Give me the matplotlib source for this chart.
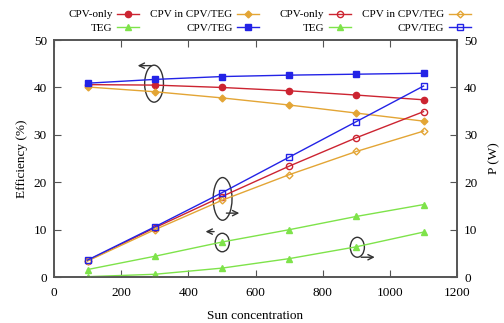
import matplotlib
matplotlib.use("Agg")
import matplotlib.pyplot as plt
from matplotlib.patches import Ellipse

plt.rcParams["font.family"] = ["Liberation Serif", "DejaVu Serif"]
plt.rcParams["font.size"] = 9.5

# Sun concentration (x axis)
suns = [100, 300, 500, 700, 900, 1100]

# Efficiency (%) - left axis
eff_cpv_only = [40.6, 40.5, 40.0, 39.3, 38.4, 37.4]
eff_cpv_in_hybrid = [40.1, 39.1, 37.8, 36.3, 34.6, 32.9]
eff_teg = [1.6, 4.4, 7.4, 10.0, 12.8, 15.3]
eff_hybrid = [40.9, 41.7, 42.3, 42.6, 42.8, 43.0]

# Power (W) - right axis
p_cpv_only = [3.5, 10.4, 17.0, 23.4, 29.4, 34.9]
p_cpv_in_hybrid = [3.4, 10.0, 16.2, 21.6, 26.5, 30.8]
p_teg = [0.1, 0.6, 1.9, 3.9, 6.4, 9.5]
p_hybrid = [3.6, 10.6, 17.8, 25.3, 32.8, 40.3]

RED = "#cc2431"
ORANGE = "#e3a535"
GREEN = "#7ee34a"
BLUE = "#2323e6"
GRAY = "#555555"

fig = plt.figure(figsize=(5.04, 3.23), dpi=100)
ax = fig.add_axes([0.107, 0.142, 0.800, 0.734])
ax2 = ax.twinx()

lw = 1.0
ms = 4.5
h1 = ax.plot(suns, eff_cpv_only, color=RED, marker="o", ms=ms, lw=lw)[0]
h2 = ax.plot(suns, eff_cpv_in_hybrid, color=ORANGE, marker="D", ms=3.5, lw=lw)[0]
h3 = ax.plot(suns, eff_teg, color=GREEN, marker="^", ms=ms, lw=lw)[0]
h4 = ax.plot(suns, eff_hybrid, color=BLUE, marker="s", ms=ms, lw=lw)[0]

g1 = ax2.plot(suns, p_cpv_only, color=RED, marker="o", mfc="none", ms=ms, lw=lw)[0]
g2 = ax2.plot(suns, p_cpv_in_hybrid, color=ORANGE, marker="D", mfc="none", ms=3.5, lw=lw)[0]
g3 = ax2.plot(suns, p_teg, color=GREEN, marker="^", ms=ms, lw=lw)[0]
g4 = ax2.plot(suns, p_hybrid, color=BLUE, marker="s", mfc="none", ms=ms, lw=lw)[0]

ax.set_xlim(0, 1200)
ax.set_ylim(0, 50)
ax2.set_ylim(0, 50)
ax.set_xticks(range(0, 1201, 200))
ax.set_yticks(range(0, 51, 10))
ax2.set_yticks(range(0, 51, 10))
ax.tick_params(axis="x", direction="in", top=True, length=5, color=GRAY, pad=7)
ax.tick_params(axis="y", direction="in", length=5, color=GRAY, pad=5)
ax2.tick_params(direction="in", length=5, color=GRAY, pad=5)
for a in (ax, ax2):
    for s in a.spines.values():
        s.set_color(GRAY)
        s.set_linewidth(1.2)

ax.set_xlabel("Sun concentration", labelpad=8)
ax.set_ylabel("Efficiency (%)")
ax2.set_ylabel("P (W)", labelpad=8)

# ellipses and arrows marking which axis each group belongs to
ec = "#333333"
ax.add_patch(Ellipse((298, 40.8), 56, 7.8, fill=False, ec=ec, lw=1))
ax.annotate("", xy=(241, 44.6), xytext=(298, 44.6),
            arrowprops=dict(arrowstyle="->", color=ec, lw=1))
ax.add_patch(Ellipse((502, 16.5), 56, 9.0, fill=False, ec=ec, lw=1))
ax.annotate("", xy=(560, 13.5), xytext=(505, 13.5),
            arrowprops=dict(arrowstyle="->", color=ec, lw=1))
ax.add_patch(Ellipse((501, 7.3), 42, 3.9, fill=False, ec=ec, lw=1))
ax.annotate("", xy=(443, 9.6), xytext=(485, 9.6),
            arrowprops=dict(arrowstyle="->", color=ec, lw=1))
ax.add_patch(Ellipse((903, 6.3), 42, 4.2, fill=False, ec=ec, lw=1))
ax.annotate("", xy=(963, 4.2), xytext=(906, 4.2),
            arrowprops=dict(arrowstyle="->", color=ec, lw=1))

leg_kw = dict(ncol=2, markerfirst=False, frameon=False, handlelength=2.0,
              handletextpad=0.4, columnspacing=1.0, labelspacing=0.3,
              borderaxespad=0, borderpad=0, fontsize=8)
fig.legend([h1, h3, h2, h4], ["CPV-only", "TEG", "CPV in CPV/TEG", "CPV/TEG"],
           loc="upper left", bbox_to_anchor=(0.135, 0.97), **leg_kw)
fig.legend([g1, g3, g2, g4], ["CPV-only", "TEG", "CPV in CPV/TEG", "CPV/TEG"],
           loc="upper left", bbox_to_anchor=(0.555, 0.97), **leg_kw)

fig.savefig("out.png", dpi=100)
